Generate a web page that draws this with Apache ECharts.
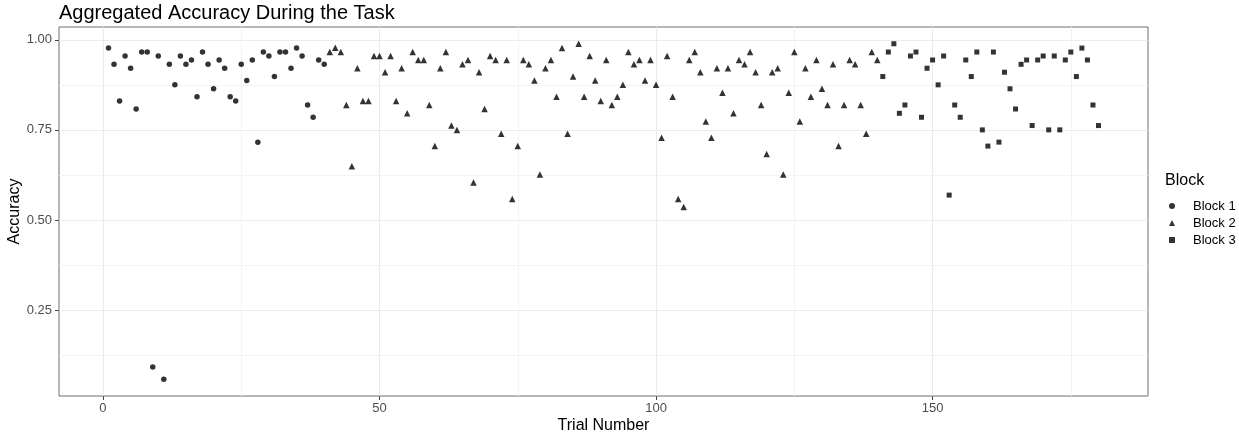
<!DOCTYPE html>
<html>
<head>
<meta charset="utf-8">
<script src="https://cdn.jsdelivr.net/npm/echarts@6/dist/echarts.min.js"></script>
<style>html,body{margin:0;padding:0;background:#fff}#c{width:1239px;height:434px}</style>
</head>
<body>
<div id="c"></div>
<script>
const seriesNames = ['Block 1', 'Block 2', 'Block 3'];
const block1FirstTrial = 1;
const block1Values = [0.977,0.932,0.830,0.955,0.921,0.808,0.966,0.966,0.092,0.955,
  0.058,0.932,0.875,0.955,0.932,0.944,0.842,0.966,0.932,0.864,
  0.944,0.921,0.842,0.830,0.932,0.887,0.944,0.716,0.966,0.955,
  0.898,0.966,0.966,0.921,0.977,0.955,0.819,0.785,0.944,0.932];
const block2FirstTrial = 41;
const block2Values = [0.966,0.978,0.966,0.819,0.649,0.921,0.830,0.830,0.955,0.955,
  0.910,0.955,0.830,0.921,0.796,0.966,0.944,0.944,0.819,0.705,
  0.921,0.966,0.762,0.750,0.932,0.944,0.604,0.910,0.808,0.955,
  0.944,0.739,0.944,0.558,0.705,0.944,0.932,0.887,0.626,0.921,
  0.944,0.842,0.977,0.739,0.898,0.989,0.842,0.955,0.887,0.830,
  0.944,0.819,0.842,0.875,0.966,0.932,0.944,0.887,0.944,0.875,
  0.728,0.955,0.842,0.558,0.536,0.944,0.966,0.910,0.773,0.728,
  0.921,0.853,0.921,0.796,0.944,0.932,0.966,0.910,0.819,0.683,
  0.910,0.921,0.626,0.853,0.966,0.773,0.921,0.842,0.944,0.864,
  0.819,0.932,0.705,0.819,0.944,0.932,0.819,0.739,0.966,0.944];
const block3FirstTrial = 141;
const block3Values = [0.898,0.966,0.989,0.796,0.819,0.955,0.966,0.785,0.921,0.944,
  0.875,0.955,0.569,0.819,0.785,0.944,0.898,0.966,0.750,0.705,
  0.966,0.716,0.910,0.864,0.808,0.932,0.944,0.762,0.944,0.955,
  0.750,0.955,0.750,0.944,0.966,0.898,0.977,0.944,0.819,0.762];
const xTickLabels = [0, 50, 100, 150];
const xMinorTicks = [25, 75, 125, 175];
const yTickLabels = [0.25, 0.50, 0.75, 1.00];
const yMinorTicks = [0.125, 0.375, 0.625, 0.875];

function pairs(first, vals) { return vals.map((v, i) => [first + i, v]); }

const FONT = "'Liberation Sans', Arial, Helvetica, sans-serif";
const xMin = -7.95, xMax = 188.95, yMin = 0.0115, yMax = 1.0355;
const chart = echarts.init(document.getElementById('c'), null, {renderer: 'canvas'});
const grid = {left: 59, right: 91, top: 27, bottom: 38, show: true, borderColor: '#6f6f6f', borderWidth: 1,
  backgroundColor: '#fff', containLabel: false, outerBoundsMode: 'none'};
function minorAxis(vals, min, max) {
  return {type: 'value', min: min, max: max, gridIndex: 0,
    axisLine: {show: false, onZero: false}, axisLabel: {show: false},
    axisTick: {show: false, customValues: vals},
    splitLine: {show: true, lineStyle: {color: '#f3f3f3', width: 1}}};
}
const option = {
  animation: false,
  textStyle: {fontFamily: FONT},
  title: [
    {text: 'Aggregated Accuracy During the Task', left: 59, top: 3, padding: 0,
     textStyle: {fontSize: 20, fontWeight: 'normal', color: '#000', fontFamily: FONT}},
    {text: 'Block', left: 1165, top: 173, padding: 0,
     textStyle: {fontSize: 16, fontWeight: 'normal', color: '#000', fontFamily: FONT}}
  ],
  legend: {orient: 'vertical', left: 1169, top: 199, itemWidth: 6, itemHeight: 6, itemGap: 3,
    padding: 0, data: seriesNames,
    textStyle: {fontSize: 13, color: '#000', lineHeight: 14, fontFamily: FONT, padding: [0, 0, 0, 13]}},
  grid: grid,
  xAxis: [
    {type: 'value', min: xMin, max: xMax, name: 'Trial Number', nameLocation: 'middle', nameGap: 22,
     nameMoveOverlap: false,
     nameTextStyle: {fontSize: 16, color: '#000', fontFamily: FONT},
     axisLine: {show: false, onZero: false},
     axisTick: {show: true, length: 4, customValues: xTickLabels, lineStyle: {color: '#444'}},
     axisLabel: {customValues: xTickLabels, fontSize: 13, color: '#4d4d4d', margin: 6, fontFamily: FONT},
     splitLine: {show: true, lineStyle: {color: '#ebebeb', width: 1}}},
    minorAxis(xMinorTicks, xMin, xMax)
  ],
  yAxis: [
    {type: 'value', min: yMin, max: yMax, name: 'Accuracy', nameLocation: 'middle', nameGap: 36, nameRotate: 90,
     nameMoveOverlap: false,
     nameTextStyle: {fontSize: 16, color: '#000', fontFamily: FONT},
     axisLine: {show: false, onZero: false},
     axisTick: {show: true, length: 4, customValues: yTickLabels, lineStyle: {color: '#444'}},
     axisLabel: {customValues: yTickLabels, fontSize: 13, color: '#4d4d4d', margin: 7, fontFamily: FONT,
       formatter: v => v.toFixed(2)},
     splitLine: {show: true, lineStyle: {color: '#ebebeb', width: 1}}},
    minorAxis(yMinorTicks, yMin, yMax)
  ],
  series: [
    {name: seriesNames[0], type: 'scatter', symbol: 'circle', symbolSize: 5.5,
     itemStyle: {color: '#000'}, data: pairs(block1FirstTrial, block1Values)},
    {name: seriesNames[1], type: 'scatter', symbol: 'triangle', symbolSize: 6.5,
     itemStyle: {color: '#000'}, data: pairs(block2FirstTrial, block2Values)},
    {name: seriesNames[2], type: 'scatter', symbol: 'rect', symbolSize: 5,
     itemStyle: {color: '#000'}, data: pairs(block3FirstTrial, block3Values)}
  ]
};
chart.setOption(option);
</script>
</body>
</html>
